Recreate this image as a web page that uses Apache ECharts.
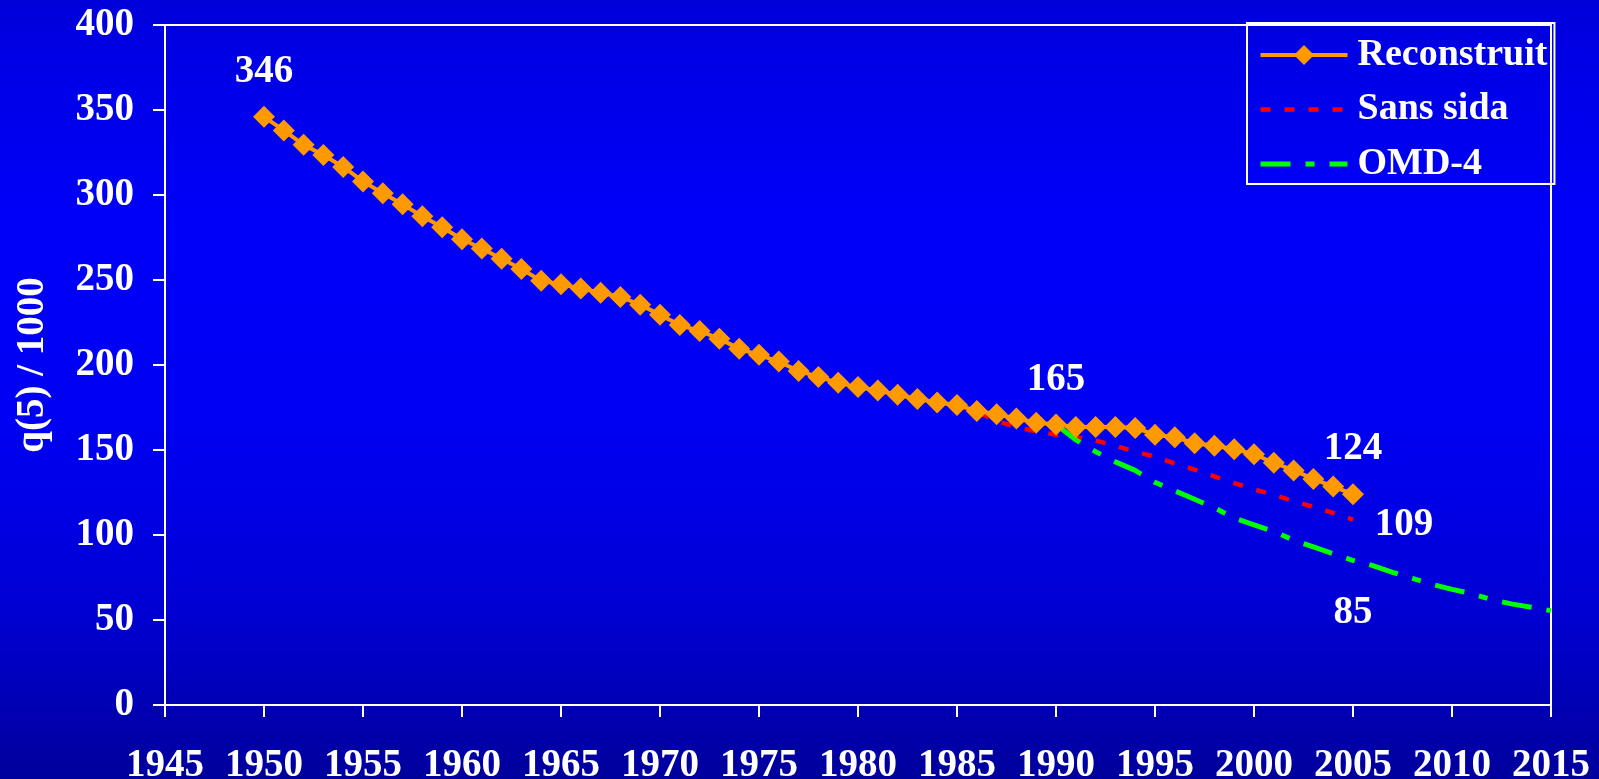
<!DOCTYPE html>
<html>
<head>
<meta charset="utf-8">
<script src="https://cdn.jsdelivr.net/npm/echarts@6/dist/echarts.min.js"></script>
<style>
html,body{margin:0;padding:0;width:1599px;height:779px;overflow:hidden;}
#c{width:1599px;height:779px;}
</style>
</head>
<body>
<div id="c"></div>
<script>
// ---- data ----
var reconYears = [1950,1951,1952,1953,1954,1955,1956,1957,1958,1959,1960,1961,1962,1963,1964,1965,1966,1967,1968,1969,1970,1971,1972,1973,1974,1975,1976,1977,1978,1979,1980,1981,1982,1983,1984,1985,1986,1987,1988,1989,1990,1991,1992,1993,1994,1995,1996,1997,1998,1999,2000,2001,2002,2003,2004,2005];
var reconValues = [346,338,329.5,323.5,316.5,308,301,294.5,287.5,281,274,268.5,262.5,256.5,249.5,247.5,245,242.5,240,235.5,229.5,223.5,220,215.5,209.5,206,202,196.5,193,189.5,187,185,182.5,180,178,176.5,173,171,168.5,166,165,163.5,163.5,163.5,163,159,157.5,154,152.5,150.5,147.5,142.5,138,133,128.5,124];
var sansYears = [1985,1986,1987,1988,1989,1990,1991,1992,1993,1994,1995,1996,1997,1998,1999,2000,2001,2002,2003,2004,2005];
var sansValues = [176.5,172.5,167,163.5,161,159,157.5,155.5,152.5,149,146,142,138.5,134.5,130.5,127,123.5,120,116.5,113,109];
var omdYears = [1990,1991,1992,1993,1994,1995,1996,1997,1998,1999,2000,2001,2002,2003,2004,2005,2006,2007,2008,2009,2010,2011,2012,2013,2014,2015];
var omdValues = [165,156,149,143,138,131,126,121,116,110,106,102,97,93,89,85,82,78,74.5,71,68,65.5,62,59.5,57.5,55.5];
var seriesNames = ['Reconstruit','Sans sida','OMD-4'];
var xTickLabels = ['1945','1950','1955','1960','1965','1970','1975','1980','1985','1990','1995','2000','2005','2010','2015'];
var yTickLabels = ['0','50','100','150','200','250','300','350','400'];
var reconLabelYears = [1950,1990,2005];
var sansLabelYears = [2005];
var omdLabelYears = [2005];

// ---- build ----
var FONT = '"Liberation Serif","Times New Roman",serif';
function lbl(offset){
  return {show:true, position:'inside', offset:offset, color:'#fff', fontFamily:FONT, fontWeight:'bold', fontSize:39,
    formatter:function(p){return String(p.value[1]);}};
}
function buildData(years, vals, labelYears, offset, hidden){
  return years.map(function(y,i){
    var it = {value:[y, vals[i]]};
    if (labelYears.indexOf(y) >= 0){
      it.label = lbl(offset);
      if (hidden){ it.symbol='circle'; it.symbolSize=1; it.itemStyle={color:'rgba(0,0,0,0)'}; }
    }
    return it;
  });
}
var RED_DASH = [10,14], GREEN_DASH = [30,15,9,15];

var chart = echarts.init(document.getElementById('c'), null, {renderer:'canvas'});
var option = {
  animation:false,
  backgroundColor: new echarts.graphic.LinearGradient(0,0,0,1,[
    {offset:0,color:'#0000DA'},{offset:0.08,color:'#0000E6'},{offset:0.3,color:'#0000FA'},
    {offset:0.55,color:'#0000F2'},{offset:0.78,color:'#0000D4'},{offset:1,color:'#00009C'}]),
  textStyle:{fontFamily:FONT},
  grid:{left:165, right:48, top:25, bottom:74, show:true, borderColor:'#fff', borderWidth:2, backgroundColor:'transparent',
    containLabel:false, outerBoundsMode:'none'},
  legend:{
    data:[
      {name:seriesNames[0], lineStyle:{width:4, color:'#FF9900', type:'solid'}},
      {name:seriesNames[1], itemStyle:{opacity:0}, lineStyle:{width:4.5, color:'#FF0000', type:RED_DASH}},
      {name:seriesNames[2], itemStyle:{opacity:0}, lineStyle:{width:5, color:'#00FF00', type:GREEN_DASH}}],
    orient:'vertical', left:1247, top:23,
    padding:[12,7,0,11], itemGap:14.5, itemWidth:87, itemHeight:25,
    borderColor:'#fff', borderWidth:2, backgroundColor:'transparent',
    textStyle:{color:'#fff', fontFamily:FONT, fontWeight:'bold', fontSize:38, lineHeight:40, padding:[0,0,0,5]}
  },
  xAxis:{
    type:'value', min:1945, max:2015, interval:5,
    axisLine:{show:true, onZero:false, lineStyle:{color:'#fff', width:2}},
    axisTick:{show:true, length:12, lineStyle:{color:'#fff', width:2}},
    axisLabel:{color:'#fff', fontFamily:FONT, fontWeight:'bold', fontSize:39, margin:41,
      formatter:function(v){var i=Math.round((v-1945)/5); return xTickLabels[i]!==undefined?xTickLabels[i]:String(v);}},
    splitLine:{show:false}
  },
  yAxis:{
    type:'value', min:0, max:400, interval:50,
    name:'q(5) / 1000', nameLocation:'middle', nameRotate:90, nameGap:113,
    nameTextStyle:{color:'#fff', fontFamily:FONT, fontWeight:'bold', fontSize:39},
    axisLine:{show:true, lineStyle:{color:'#fff', width:2}},
    axisTick:{show:true, length:12, lineStyle:{color:'#fff', width:2}},
    axisLabel:{color:'#fff', fontFamily:FONT, fontWeight:'bold', fontSize:39, margin:31, padding:[9,0,0,0],
      formatter:function(v){var i=Math.round(v/50); return yTickLabels[i]!==undefined?yTickLabels[i]:String(v);}},
    splitLine:{show:false}
  },
  series:[
    {name:seriesNames[1], type:'line', z:2, symbol:'none', data:buildData(sansYears, sansValues, sansLabelYears, [51,5], true),
      lineStyle:{color:'#FF0000', width:4.5, type:RED_DASH}, itemStyle:{color:'#FF0000'}},
    {name:seriesNames[2], type:'line', z:2, symbol:'none', data:buildData(omdYears, omdValues, omdLabelYears, [0,52], true),
      lineStyle:{color:'#00FF00', width:5, type:GREEN_DASH}, itemStyle:{color:'#00FF00'}},
    {name:seriesNames[0], type:'line', z:3, symbol:'diamond', symbolSize:22, data:buildData(reconYears, reconValues, reconLabelYears, [0,-45], false),
      lineStyle:{color:'#FF9900', width:4}, itemStyle:{color:'#FF9900'}}
  ]
};
chart.setOption(option);
</script>
</body>
</html>
